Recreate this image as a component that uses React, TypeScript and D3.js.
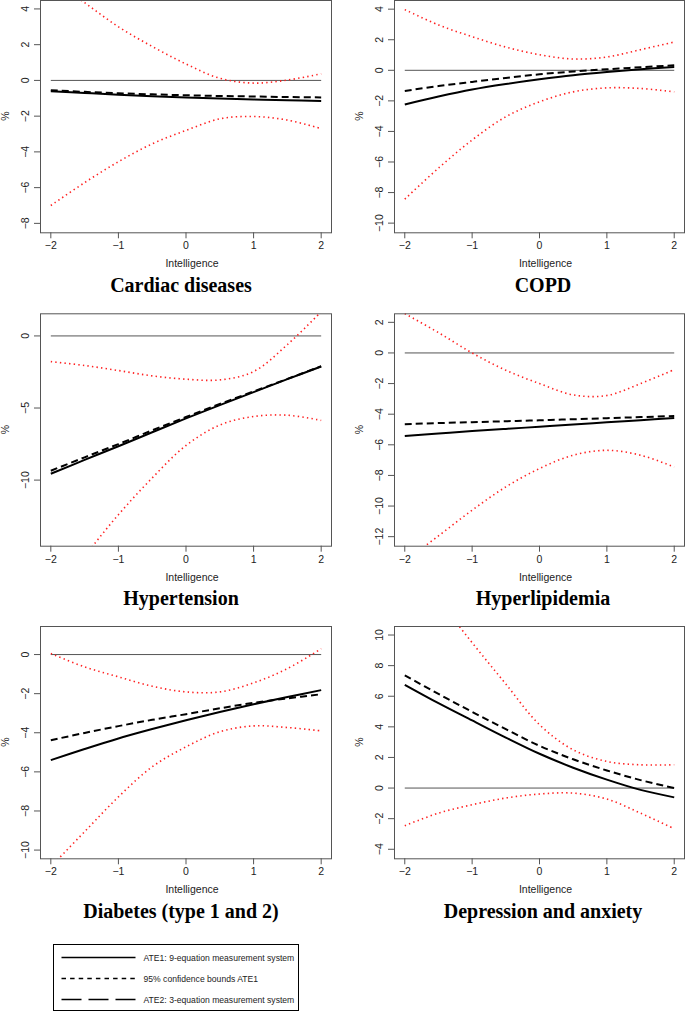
import * as d3 from "d3";

// common x grid (Intelligence, standardised)
const xGrid = [-2, -1.5, -1, -0.5, 0, 0.5, 1, 1.5, 2];
const xTicks = [-2, -1, 0, 1, 2];

// Cardiac diseases
const cardiacAte1 = [-0.6, -0.7, -0.8, -0.88, -0.95, -1.01, -1.07, -1.11, -1.15];
const cardiacAte2 = [-0.55, -0.64, -0.72, -0.78, -0.83, -0.87, -0.9, -0.93, -0.95];
const cardiacUpper = [5.7, 4.35, 3.0, 1.9, 0.92, 0.12, -0.15, 0.02, 0.37];
const cardiacLower = [-7.0, -5.72, -4.55, -3.55, -2.8, -2.15, -2.02, -2.22, -2.7];

// COPD
const copdAte1 = [-2.24, -1.72, -1.26, -0.9, -0.59, -0.32, -0.11, 0.07, 0.22];
const copdAte2 = [-1.35, -1.03, -0.76, -0.5, -0.26, -0.08, 0.07, 0.2, 0.33];
const copdUpper = [3.97, 2.97, 2.2, 1.52, 1.02, 0.74, 0.87, 1.35, 1.85];
const copdLower = [-8.43, -6.4, -4.56, -3.04, -2.06, -1.41, -1.15, -1.19, -1.41];

// Hypertension
const hyperAte1 = [-9.56, -8.6, -7.65, -6.68, -5.72, -4.8, -3.9, -3.0, -2.12];
const hyperAte2 = [-9.35, -8.42, -7.5, -6.55, -5.62, -4.72, -3.85, -2.98, -2.1];
const hyperUpper = [-1.78, -2.05, -2.4, -2.77, -3.0, -3.05, -2.47, -0.6, 1.68];
const hyperLower = [-18.5, -15.3, -12.4, -9.85, -7.6, -6.18, -5.59, -5.5, -5.86];

// Hyperlipidemia
const lipidAte1 = [-5.42, -5.26, -5.1, -4.96, -4.82, -4.68, -4.53, -4.39, -4.25];
const lipidAte2 = [-4.65, -4.58, -4.52, -4.46, -4.4, -4.33, -4.26, -4.19, -4.12];
const lipidUpper = [2.57, 1.33, 0.0, -1.13, -2.0, -2.74, -2.78, -2.0, -1.09];
const lipidLower = [-13.6, -11.95, -10.27, -8.75, -7.55, -6.68, -6.36, -6.68, -7.45];

// Diabetes (type 1 and 2)
const diabAte1 = [-5.4, -4.83, -4.29, -3.81, -3.36, -2.94, -2.54, -2.17, -1.82];
const diabAte2 = [-4.38, -4.01, -3.66, -3.34, -3.05, -2.75, -2.47, -2.24, -2.03];
const diabUpper = [0.05, -0.63, -1.14, -1.62, -1.91, -1.91, -1.45, -0.72, 0.3];
const diabLower = [-10.85, -9.06, -7.28, -5.74, -4.72, -3.95, -3.65, -3.73, -3.9];

// Depression and anxiety
const deprAte1 = [6.75, 5.55, 4.42, 3.3, 2.24, 1.33, 0.55, -0.12, -0.61];
const deprAte2 = [7.36, 6.15, 4.98, 3.85, 2.76, 1.88, 1.15, 0.52, 0.0];
const deprUpper = [15.0, 12.3, 9.5, 6.8, 4.14, 2.5, 1.74, 1.52, 1.52];
const deprLower = [-2.46, -1.64, -1.09, -0.65, -0.39, -0.33, -0.72, -1.64, -2.66];

const titles = [
  "Cardiac diseases",
  "COPD",
  "Hypertension",
  "Hyperlipidemia",
  "Diabetes (type 1 and 2)",
  "Depression and anxiety",
];
const yDomains: [number, number][] = [
  [-8.5, 4.5],
  [-10.6, 4.6],
  [-14.55, 1.57],
  [-12.59, 2.59],
  [-10.42, 1.46],
  [-4.59, 10.59],
];
const yTickLists = [
  [-8, -6, -4, -2, 0, 2, 4],
  [-10, -8, -6, -4, -2, 0, 2, 4],
  [-10, -5, 0],
  [-12, -10, -8, -6, -4, -2, 0, 2],
  [-10, -8, -6, -4, -2, 0],
  [-4, -2, 0, 2, 4, 6, 8, 10],
];
const seriesByPanel = [
  [cardiacAte1, cardiacAte2, cardiacUpper, cardiacLower],
  [copdAte1, copdAte2, copdUpper, copdLower],
  [hyperAte1, hyperAte2, hyperUpper, hyperLower],
  [lipidAte1, lipidAte2, lipidUpper, lipidLower],
  [diabAte1, diabAte2, diabUpper, diabLower],
  [deprAte1, deprAte2, deprUpper, deprLower],
];

const legendLabels = [
  "ATE1: 9-equation measurement system",
  "95% confidence bounds ATE1",
  "ATE2: 3-equation measurement system",
];

// layout
const colLeft = [40, 394];
const colRight = [332, 685];
const titleX = [181, 543];
const rowTop = [0, 313.3, 626];
const rowBottom = [232.3, 545.7, 858.3];

const sans = "'Liberation Sans', Arial, sans-serif";
const fmt = (v: number) => (v < 0 ? "\u2212" + Math.abs(v) : String(v));

function Panel({ idx }: { idx: number }) {
  const col = idx % 2;
  const row = Math.floor(idx / 2);
  const left = colLeft[col];
  const right = colRight[col];
  const top = rowTop[row];
  const bottom = rowBottom[row];

  const x = d3.scaleLinear().domain([-2.16, 2.16]).range([left, right]);
  const y = d3.scaleLinear().domain(yDomains[idx]).range([bottom, top]);
  const line = d3
    .line<number>()
    .x((_, i) => x(xGrid[i]))
    .y((d) => y(d))
    .curve(d3.curveCatmullRom.alpha(0.5));

  const [ate1, ate2, upper, lower] = seriesByPanel[idx];
  const clipId = `clip-${idx}`;
  const cx = (left + right) / 2;

  return (
    <g>
      <defs>
        <clipPath id={clipId}>
          <rect x={left} y={top} width={right - left} height={bottom - top} />
        </clipPath>
      </defs>
      <g clipPath={`url(#${clipId})`}>
        <line x1={x(-2)} x2={x(2)} y1={y(0)} y2={y(0)} stroke="#555" strokeWidth={1} />
        <path d={line(upper) || ""} fill="none" stroke="#ff2020" strokeWidth={1.6} strokeDasharray="1.4 3.2" />
        <path d={line(lower) || ""} fill="none" stroke="#ff2020" strokeWidth={1.6} strokeDasharray="1.4 3.2" />
        <path d={line(ate2) || ""} fill="none" stroke="#000" strokeWidth={2} strokeDasharray="7 4" />
        <path d={line(ate1) || ""} fill="none" stroke="#000" strokeWidth={2} />
      </g>
      <rect
        x={left + 0.5}
        y={top + 0.5}
        width={right - left - 1}
        height={bottom - top}
        fill="none"
        stroke="#555"
        strokeWidth={1}
      />
      {xTicks.map((t) => (
        <g key={t}>
          <line x1={x(t)} x2={x(t)} y1={bottom} y2={bottom + 6} stroke="#555" />
          <text x={x(t)} y={bottom + 17} fontSize={10.5} fontFamily={sans} textAnchor="middle" fill="#222">
            {fmt(t)}
          </text>
        </g>
      ))}
      {yTickLists[idx].map((t) => (
        <g key={t}>
          <line x1={left - 6} x2={left} y1={y(t)} y2={y(t)} stroke="#555" />
          <text
            transform={`translate(${left - 15},${y(t)}) rotate(-90)`}
            dy="0.35em"
            fontSize={10.5}
            fontFamily={sans}
            textAnchor="middle"
            fill="#222"
          >
            {fmt(t)}
          </text>
        </g>
      ))}
      <text x={cx + 6} y={bottom + 35} fontSize={10.5} fontFamily={sans} textAnchor="middle" fill="#222">
        Intelligence
      </text>
      <text
        transform={`translate(${left - 35},${(top + bottom) / 2}) rotate(-90)`}
        dy="0.35em"
        fontSize={10.5}
        fontFamily={sans}
        textAnchor="middle"
        fill="#222"
      >
        %
      </text>
      <text
        x={titleX[col]}
        y={bottom + 59.5}
        fontSize={20}
        fontWeight="bold"
        fontFamily="'Liberation Serif', 'Times New Roman', serif"
        textAnchor="middle"
        fill="#000"
      >
        {titles[idx]}
      </text>
    </g>
  );
}

function Legend() {
  const rowsY = [957.5, 978.5, 999.5];
  const dashes = [undefined, "4.5 4.1", "20 7"];
  return (
    <g>
      <rect x={53.5} y={944.5} width={245} height={66} fill="#fff" stroke="#000" strokeWidth={1} />
      {legendLabels.map((lab, i) => (
        <g key={lab}>
          <line
            x1={61.5}
            x2={135.5}
            y1={rowsY[i]}
            y2={rowsY[i]}
            stroke="#000"
            strokeWidth={1.5}
            strokeDasharray={dashes[i]}
          />
          <text x={143.5} y={rowsY[i]} dy="0.35em" fontSize={8.6} fontFamily={sans} fill="#222">
            {lab}
          </text>
        </g>
      ))}
    </g>
  );
}

export default function App() {
  return (
    <svg
      width={685}
      height={1012}
      style={{ position: "absolute", left: 0, top: 0, background: "#fff" }}
    >
      {titles.map((_, i) => (
        <Panel key={i} idx={i} />
      ))}
      <Legend />
    </svg>
  );
}
